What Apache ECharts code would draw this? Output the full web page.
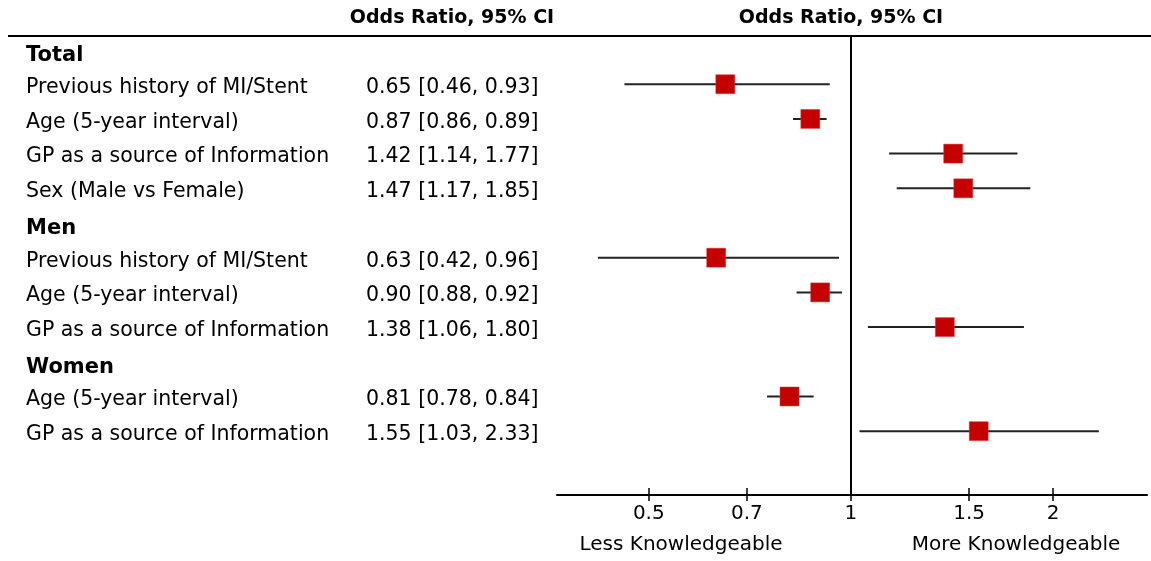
<!DOCTYPE html>
<html>
<head>
<meta charset="utf-8">
<script src="https://cdn.jsdelivr.net/npm/echarts@6/dist/echarts.min.js"></script>
<style>
html,body{margin:0;padding:0;background:#fff;}
#chart{width:1151px;height:561px;}
</style>
</head>
<body>
<div id="chart"></div>
<script>
// ---- data ----
const rowLabels = ['Total', 'Previous history of MI/Stent', 'Age (5-year interval)', 'GP as a source of Information', 'Sex (Male vs Female)',
  'Men', 'Previous history of MI/Stent', 'Age (5-year interval)', 'GP as a source of Information',
  'Women', 'Age (5-year interval)', 'GP as a source of Information'];
const headerRows = ['Total', 'Men', 'Women'];
const ciText = ['', '0.65 [0.46, 0.93]', '0.87 [0.86, 0.89]', '1.42 [1.14, 1.77]', '1.47 [1.17, 1.85]',
  '', '0.63 [0.42, 0.96]', '0.90 [0.88, 0.92]', '1.38 [1.06, 1.80]',
  '', '0.81 [0.78, 0.84]', '1.55 [1.03, 2.33]'];
const oddsRatio = [null, 0.65, 0.87, 1.42, 1.47, null, 0.63, 0.90, 1.38, null, 0.81, 1.55];
// whisker ends as drawn in the picture
const whiskerLow = [null, 0.46, 0.82, 1.14, 1.17, null, 0.42, 0.83, 1.06, null, 0.75, 1.03];
const whiskerHigh = [null, 0.93, 0.92, 1.77, 1.85, null, 0.96, 0.97, 1.81, null, 0.88, 2.34];
const xTicks = [0.5, 0.7, 1, 1.5, 2];
const columnTitle = 'Odds Ratio, 95% CI';
const lessLabel = 'Less Knowledgeable';
const moreLabel = 'More Knowledgeable';

// ---- build ----
const rowIdx = rowLabels.map((_, i) => i);
const pointData = [];
const barData = [];
rowIdx.forEach(i => {
  if (oddsRatio[i] != null) {
    pointData.push([oddsRatio[i], i]);
    barData.push([whiskerLow[i], whiskerHigh[i], i]);
  }
});

const FONT = 'DejaVu Sans';
const chart = echarts.init(document.getElementById('chart'), null, {renderer: 'canvas'});

const yCommon = {
  type: 'value', inverse: true, min: -0.39, max: 12.84,
  position: 'left',
  axisLine: {show: false, onZero: false}, axisTick: {show: false}, splitLine: {show: false}
};

const xCommon = {
  type: 'log', logBase: 10, min: 0.365, max: 2.76,
  splitLine: {show: false}
};

chart.setOption({
  animation: false,
  textStyle: {fontFamily: FONT},
  grid: {left: 557, right: 4, top: 36, bottom: 66, containLabel: false},
  xAxis: [
    Object.assign({}, xCommon, {
      position: 'bottom',
      axisLine: {show: true, onZero: false, lineStyle: {color: '#000', width: 2}},
      axisTick: {show: true, inside: false, length: 6, lineStyle: {color: '#000', width: 1.5}, customValues: xTicks},
      axisLabel: {show: true, customValues: xTicks, margin: 9, color: '#000', fontSize: 20, fontFamily: FONT,
        formatter: v => String(v)}
    }),
    Object.assign({}, xCommon, {
      position: 'top', offset: -459,
      axisLine: {show: false, onZero: false},
      axisTick: {show: true, inside: false, length: 7, lineStyle: {color: '#000', width: 1.5}, customValues: xTicks},
      axisLabel: {show: false}
    })
  ],
  yAxis: [
    Object.assign({}, yCommon, {
      axisLabel: {
        show: true, customValues: rowIdx, align: 'left', margin: 531, color: '#000',
        formatter: v => {
          const t = rowLabels[Math.round(v)];
          return headerRows.indexOf(t) >= 0 ? '{h|' + t + '}' : '{r|' + t + '}';
        },
        rich: {
          h: {fontWeight: 'bold', fontSize: 21, fontFamily: FONT, color: '#000', padding: [12, 0, 0, 0]},
          r: {fontSize: 20.5, fontFamily: FONT, color: '#000', padding: [7, 0, 0, 0]}
        }
      }
    }),
    Object.assign({}, yCommon, {
      axisLabel: {
        show: true, customValues: rowIdx, align: 'left', margin: 191, color: '#000',
        formatter: v => {
          const t = ciText[Math.round(v)];
          return t ? '{r|' + t + '}' : '';
        },
        rich: {
          r: {fontSize: 20.5, fontFamily: FONT, color: '#000', padding: [7, 0, 0, 0]}
        }
      }
    })
  ],
  graphic: [
    {type: 'line', shape: {x1: 8, y1: 36, x2: 1151, y2: 36}, style: {stroke: '#000', lineWidth: 2}, z: 10},
    {type: 'text', x: 452, y: 18, style: {text: columnTitle, font: 'bold 19px "DejaVu Sans"', fill: '#000', textAlign: 'center', textVerticalAlign: 'middle'}},
    {type: 'text', x: 841, y: 18, style: {text: columnTitle, font: 'bold 19px "DejaVu Sans"', fill: '#000', textAlign: 'center', textVerticalAlign: 'middle'}},
    {type: 'text', x: 681, y: 545, style: {text: lessLabel, font: '20px "DejaVu Sans"', fill: '#000', textAlign: 'center', textVerticalAlign: 'middle'}},
    {type: 'text', x: 1016, y: 545, style: {text: moreLabel, font: '20px "DejaVu Sans"', fill: '#000', textAlign: 'center', textVerticalAlign: 'middle'}}
  ],
  series: [
    {
      type: 'custom',
      xAxisIndex: 0, yAxisIndex: 0,
      data: barData,
      encode: {x: [0, 1], y: 2},
      renderItem: (params, api) => {
        const y = api.value(2);
        const p1 = api.coord([api.value(0), y]);
        const p2 = api.coord([api.value(1), y]);
        return {type: 'line', shape: {x1: p1[0], y1: p1[1], x2: p2[0], y2: p2[1]},
          style: {stroke: '#222', lineWidth: 2}};
      },
      z: 2,
      silent: true
    },
    {
      type: 'scatter',
      xAxisIndex: 0, yAxisIndex: 0,
      data: pointData,
      symbol: 'rect',
      symbolSize: 19,
      itemStyle: {color: '#c40000', borderColor: '#d84040', borderWidth: 0.5, opacity: 1},
      z: 3,
      silent: true,
      markLine: {
        silent: true, symbol: ['none', 'none'], label: {show: false},
        lineStyle: {color: '#000', width: 2, type: 'solid'},
        data: [{xAxis: 1}]
      }
    }
  ]
});
</script>
</body>
</html>
